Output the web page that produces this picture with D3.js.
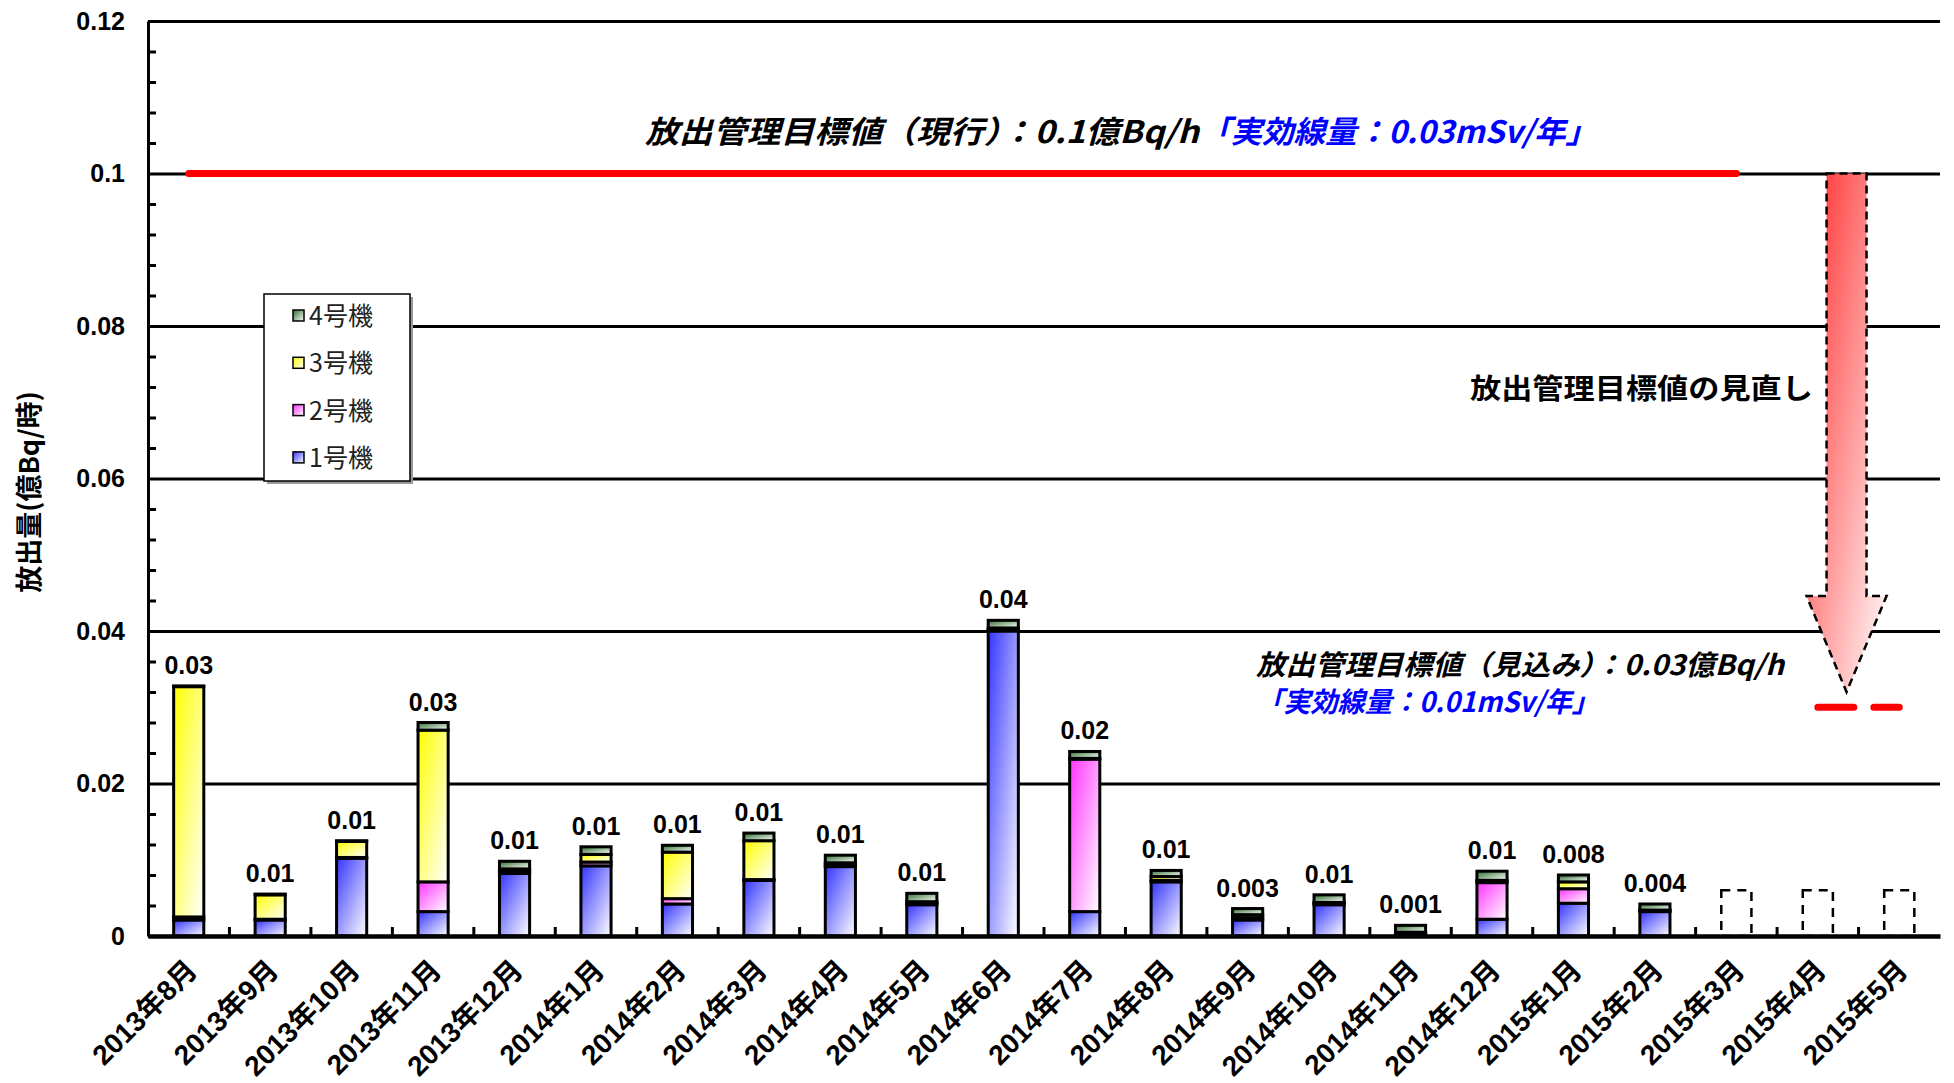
<!DOCTYPE html>
<html>
<head>
<meta charset="utf-8">
<script src="https://cdn.jsdelivr.net/npm/d3@7"></script>
<style>
  html, body { margin: 0; padding: 0; background: #fff; }
  svg { display: block; }
</style>
</head>
<body>
<svg id="chart" width="1954" height="1083"></svg>
<script>
// Monthly release amounts (億Bq/時) by reactor unit
const categories = ["2013年8月","2013年9月","2013年10月","2013年11月","2013年12月",
  "2014年1月","2014年2月","2014年3月","2014年4月","2014年5月","2014年6月","2014年7月",
  "2014年8月","2014年9月","2014年10月","2014年11月","2014年12月","2015年1月","2015年2月",
  "2015年3月","2015年4月","2015年5月"];
const unit1 = [0.0021,0.0021,0.0102,0.0032,0.0082,0.0092,0.0042,0.0073,0.0091,0.0041,0.0400,0.0032,0.0071,0.0021,0.0041,0.0002,0.0022,0.0043,0.0032];
const unit2 = [0.0004,0.0001,0.0001,0.0039,0.0004,0.0005,0.0007,0.0001,0.0002,0.0002,0.0002,0.0200,0.0002,0.0003,0.0002,0.0001,0.0048,0.0019,0.0001];
const unit3 = [0.0302,0.0032,0.0021,0.0199,0.0002,0.0010,0.0061,0.0051,0.0003,0.0002,0.0002,0.0001,0.0005,0.0004,0.0001,0.0002,0.0003,0.0009,0.0001];
const unit4 = [0.0001,0.0001,0.0001,0.0010,0.0010,0.0010,0.0009,0.0010,0.0010,0.0011,0.0010,0.0009,0.0008,0.0008,0.0010,0.0009,0.0012,0.0009,0.0008];
const totalLabels = ["0.03","0.01","0.01","0.03","0.01","0.01","0.01","0.01","0.01","0.01","0.04","0.02","0.01","0.003","0.01","0.001","0.01","0.008","0.004"];
const plannedMonths = ["2015年3月","2015年4月","2015年5月"];
const plannedValue = 0.006;

const seriesKeys = ["u1","u2","u3","u4"];
const seriesNames = ["1号機","2号機","3号機","4号機"];
const seriesColors = ["#3434ff","#ff34ff","#ffff00","#2f6e2f"];

const yTicks = [0, 0.02, 0.04, 0.06, 0.08, 0.1, 0.12];
const yTickLabels = ["0","0.02","0.04","0.06","0.08","0.1","0.12"];
const currentTarget = 0.1;     // 現行の放出管理目標値
const revisedTarget = 0.03;    // 見込みの放出管理目標値
const arrowTip = 0.032;

const svg = d3.select("#chart");
const plot = { left: 148, right: 1940, top: 21, bottom: 936 };
const numFont = "'Liberation Sans', Arial, 'Noto Sans CJK JP', sans-serif";
const jpFont = "'Noto Sans CJK JP', sans-serif";

const x = d3.scaleBand().domain(categories)
  .range([plot.left, plot.right]).paddingInner(0.63).paddingOuter(0.315);
const y = d3.scaleLinear().domain([0, 0.12]).range([plot.bottom, plot.top]);
const cx = c => x(c) + x.bandwidth() / 2;

// Gradients: saturated at top-left fading to white at bottom-right
const defs = svg.append("defs");
seriesKeys.forEach((k, i) => {
  const g = defs.append("linearGradient").attr("id", "grad-" + k)
    .attr("x1", 0).attr("y1", 0).attr("x2", 1).attr("y2", 1);
  g.append("stop").attr("offset", "0%").attr("stop-color", seriesColors[i]);
  g.append("stop").attr("offset", "100%").attr("stop-color", "#ffffff");
});
const ag = defs.append("linearGradient").attr("id", "grad-arrow")
  .attr("x1", 0).attr("y1", 0).attr("x2", 1).attr("y2", 1);
ag.append("stop").attr("offset", "0%").attr("stop-color", "#ff2a2a");
ag.append("stop").attr("offset", "100%").attr("stop-color", "#ffffff");

// Y axis with full-width gridlines
const yAxis = svg.append("g").attr("transform", `translate(${plot.left},0)`)
  .call(d3.axisLeft(y).tickValues(yTicks)
    .tickFormat((d, i) => yTickLabels[i])
    .tickSize(-(plot.right - plot.left)).tickSizeOuter(0).tickPadding(23));
yAxis.select(".domain").attr("stroke", "#000").attr("stroke-width", 3);
yAxis.selectAll(".tick line").attr("stroke", "#000").attr("stroke-width", 3);
yAxis.selectAll(".tick text").attr("fill", "#000")
  .style("font-family", numFont).style("font-size", "25px").style("font-weight", "bold");

// Minor y ticks every 0.004
const minorY = d3.range(1, 30).filter(k => k % 5 !== 0).map(k => k * 0.004);
const yMinor = svg.append("g").attr("transform", `translate(${plot.left},0)`)
  .call(d3.axisLeft(y).tickValues(minorY).tickFormat("").tickSize(-8).tickSizeOuter(0));
yMinor.select(".domain").remove();
yMinor.selectAll(".tick line").attr("stroke", "#000").attr("stroke-width", 3);

// Current target line (0.1)
svg.append("line")
  .attr("x1", cx(categories[0])).attr("x2", cx("2015年3月"))
  .attr("y1", y(currentTarget)).attr("y2", y(currentTarget))
  .attr("stroke", "#ff0000").attr("stroke-width", 7).attr("stroke-linecap", "round");

// Revised target line (0.03), dashed
svg.append("line")
  .attr("x1", cx("2015年4月")).attr("x2", cx("2015年5月"))
  .attr("y1", y(revisedTarget)).attr("y2", y(revisedTarget))
  .attr("stroke", "#ff0000").attr("stroke-width", 7)
  .attr("stroke-dasharray", "36,20").attr("stroke-linecap", "round");

// Review arrow from current to revised target
const ax = (cx("2015年4月") + cx("2015年5月")) / 2 - 12;
const aTop = y(currentTarget), aTip = y(arrowTip), aHead = aTip - 96;
const arrowPath = d3.path();
arrowPath.moveTo(ax - 20, aTop);
arrowPath.lineTo(ax + 20, aTop);
arrowPath.lineTo(ax + 20, aHead);
arrowPath.lineTo(ax + 40, aHead);
arrowPath.lineTo(ax, aTip);
arrowPath.lineTo(ax - 40, aHead);
arrowPath.lineTo(ax - 20, aHead);
arrowPath.closePath();
svg.append("path").attr("d", arrowPath.toString())
  .attr("fill", "url(#grad-arrow)").attr("stroke", "#000")
  .attr("stroke-width", 2.5).attr("stroke-dasharray", "8,5");

// Stacked bars
const rows = unit1.map((v, i) => ({ month: categories[i], u1: unit1[i], u2: unit2[i], u3: unit3[i], u4: unit4[i] }));
const stacked = d3.stack().keys(seriesKeys)(rows);
svg.append("g").selectAll("g").data(stacked).join("g")
  .attr("fill", d => `url(#grad-${d.key})`)
  .selectAll("rect").data(d => d).join("rect")
  .attr("x", d => x(d.data.month))
  .attr("width", x.bandwidth())
  .attr("y", d => y(d[1]))
  .attr("height", d => y(d[0]) - y(d[1]))
  .attr("stroke", "#000").attr("stroke-width", 3);

// Planned months (dashed outlines)
svg.append("g").selectAll("rect").data(plannedMonths).join("rect")
  .attr("x", d => x(d)).attr("width", x.bandwidth())
  .attr("y", y(plannedValue)).attr("height", y(0) - y(plannedValue))
  .attr("fill", "none").attr("stroke", "#000").attr("stroke-width", 2.5)
  .attr("stroke-dasharray", "9,7");

// Total labels
svg.append("g").selectAll("text").data(rows).join("text")
  .attr("x", d => cx(d.month))
  .attr("y", d => y(d.u1 + d.u2 + d.u3 + d.u4) - 12)
  .attr("text-anchor", "middle")
  .style("font-family", numFont).style("font-size", "25px").style("font-weight", "bold")
  .text((d, i) => totalLabels[i]);

// X axis
const xAxis = svg.append("g").attr("transform", `translate(0,${plot.bottom})`)
  .call(d3.axisBottom(x).tickSize(0).tickSizeOuter(0));
xAxis.select(".domain").attr("stroke", "#000").attr("stroke-width", 4.5);
xAxis.selectAll(".tick text")
  .attr("x", null).attr("y", null).attr("dy", null)
  .attr("transform", "translate(10,36) rotate(-45)")
  .attr("text-anchor", "end").attr("fill", "#000")
  .style("font-family", numFont).style("font-size", "28px").style("font-weight", "bold");

// Minor x ticks at category boundaries
svg.append("g").selectAll("line").data(categories.slice(1)).join("line")
  .attr("x1", d => x(d) - x.step() * x.paddingInner() / 2)
  .attr("x2", d => x(d) - x.step() * x.paddingInner() / 2)
  .attr("y1", plot.bottom).attr("y2", plot.bottom - 9)
  .attr("stroke", "#000").attr("stroke-width", 3);

// Y axis title
svg.append("text")
  .attr("transform", "translate(39,492) rotate(-90)")
  .attr("text-anchor", "middle")
  .style("font-family", jpFont).style("font-size", "27px").style("font-weight", "bold")
  .text("放出量(億Bq/時)");

// Legend
const legend = svg.append("g").attr("transform", "translate(264,294)");
legend.append("rect").attr("x", 3).attr("y", 3).attr("width", 146).attr("height", 187).attr("fill", "#9a9a9a");
legend.append("rect").attr("width", 146).attr("height", 187)
  .attr("fill", "#fff").attr("stroke", "#000").attr("stroke-width", 1.5);
const legendOrder = [3, 2, 1, 0];
legendOrder.forEach((si, row) => {
  const ly = 22 + row * 47.3;
  legend.append("rect").attr("x", 29).attr("y", ly - 6).attr("width", 11).attr("height", 11)
    .attr("fill", `url(#grad-${seriesKeys[si]})`).attr("stroke", "#000").attr("stroke-width", 1.5);
  legend.append("text").attr("x", 45).attr("y", ly + 9)
    .style("font-family", jpFont).style("font-size", "25px").style("fill", "#222")
    .text(seriesNames[si]);
});

// Annotations
function note(text, xPos, yPos, size, len, color, italic, weight) {
  svg.append("text").attr("x", xPos).attr("y", yPos)
    .attr("textLength", len).attr("lengthAdjust", "spacingAndGlyphs")
    .style("font-family", jpFont).style("font-size", size + "px")
    .style("font-weight", weight || "bold")
    .style("font-style", italic ? "italic" : "normal")
    .style("fill", color).text(text);
}
note("放出管理目標値（現行）：0.1億Bq/h", 645, 143, 31, 554, "#000", true);
note("「実効線量：0.03mSv/年」", 1199, 143, 31, 398, "#0000ff", true);
note("放出管理目標値の見直し", 1470, 399, 28, 343, "#000", false);
note("放出管理目標値（見込み）：0.03億Bq/h", 1256, 675, 28, 528, "#000", true);
note("「実効線量：0.01mSv/年」", 1256, 712, 28, 343, "#0000ff", true);
</script>
</body>
</html>
